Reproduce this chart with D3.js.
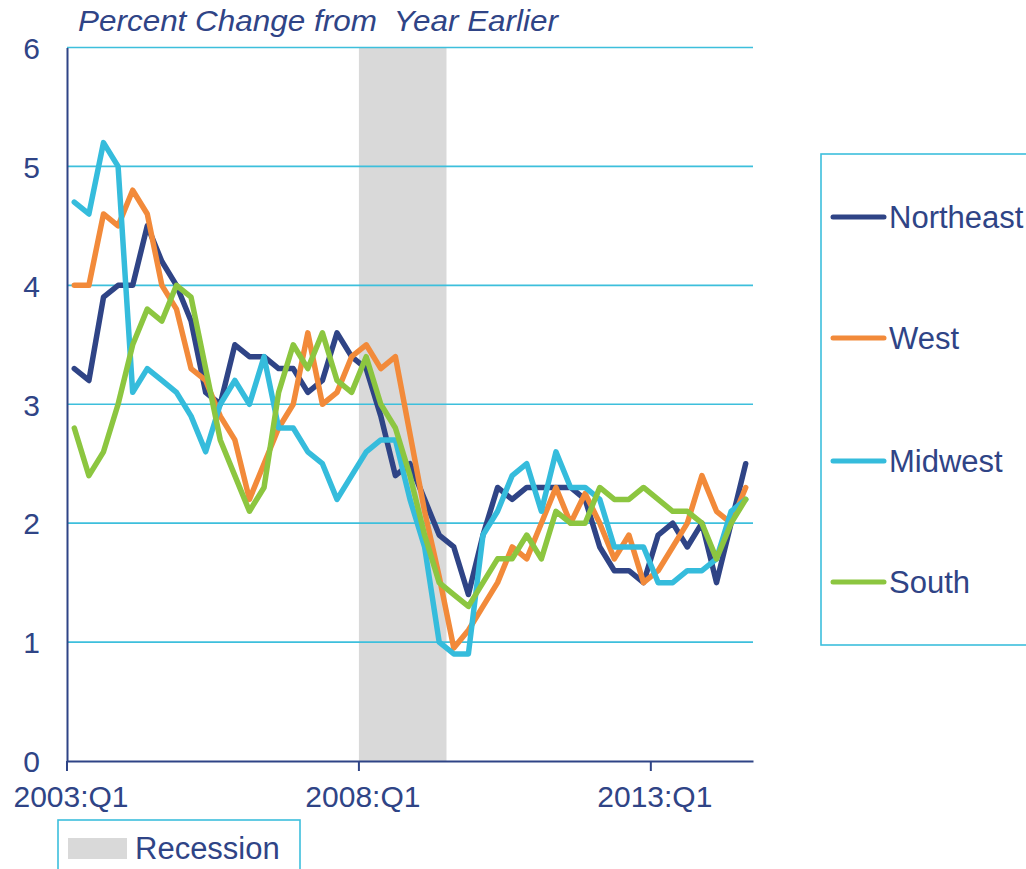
<!DOCTYPE html>
<html>
<head>
<meta charset="utf-8">
<script src="https://cdn.jsdelivr.net/npm/d3@7"></script>
<style>
  body { margin: 0; background: #fff; }
  svg { display: block; font-family: "Liberation Sans", Arial, sans-serif; }
</style>
</head>
<body>
<svg id="chart" width="1026" height="869"></svg>
<script>
// quarters 2003:Q1 .. 2014:Q3
var quarters = [];
for (var yr = 2003; yr <= 2014; yr++) {
	for (var q = 1; q <= 4; q++) {
		if (yr == 2014 && q > 3) break;
		quarters.push(yr + ":Q" + q);
	}
}
var tickLabels = ["2003:Q1", "2008:Q1", "2013:Q1"];
var yTicks = [0, 1, 2, 3, 4, 5, 6];
var recession = ["2008:Q1", "2009:Q2"];

var seriesNames = ["Northeast", "West", "Midwest", "South"];
var northeast = [3.3,3.2,3.9,4.0,4.0,4.5,4.2,4.0,3.7,3.1,3.0,3.5,3.4,3.4,3.3,3.3,3.1,3.2,3.6,3.4,3.3,2.9,2.4,2.5,2.2,1.9,1.8,1.4,1.9,2.3,2.2,2.3,2.3,2.3,2.3,2.2,1.8,1.6,1.6,1.5,1.9,2.0,1.8,2.0,1.5,2.0,2.5];
var west = [4.0,4.0,4.6,4.5,4.8,4.6,4.0,3.8,3.3,3.2,2.9,2.7,2.2,2.5,2.8,3.0,3.6,3.0,3.1,3.4,3.5,3.3,3.4,2.75,2.1,1.55,0.95,1.1,1.3,1.5,1.8,1.7,2.0,2.3,2.0,2.25,2.0,1.7,1.9,1.5,1.6,1.8,2.0,2.4,2.1,2.0,2.3];
var midwest = [4.7,4.6,5.2,5.0,3.1,3.3,3.2,3.1,2.9,2.6,3.0,3.2,3.0,3.4,2.8,2.8,2.6,2.5,2.2,2.4,2.6,2.7,2.7,2.2,1.8,1.0,0.9,0.9,1.9,2.1,2.4,2.5,2.1,2.6,2.3,2.3,2.2,1.8,1.8,1.8,1.5,1.5,1.6,1.6,1.7,2.1,2.2];
var south = [2.8,2.4,2.6,3.0,3.5,3.8,3.7,4.0,3.9,3.3,2.7,2.4,2.1,2.3,3.1,3.5,3.3,3.6,3.2,3.1,3.4,3.0,2.8,2.4,1.9,1.5,1.4,1.3,1.5,1.7,1.7,1.9,1.7,2.1,2.0,2.0,2.3,2.2,2.2,2.3,2.2,2.1,2.1,2.0,1.7,2.0,2.2];
var seriesColors = ["#2f4486", "#f28a3a", "#35bcdc", "#8cc640"];

var navy = "#2f4486", grid = "#3dbfdc", shade = "#d9d9d9";

var svg = d3.select("#chart");

var x = d3.scaleBand().domain(quarters).range([67, 753]);
var y = d3.scaleLinear().domain([0, 6]).range([761, 47.5]);

// recession shading
svg.append("rect")
	.attr("x", x(recession[0]))
	.attr("y", y(6))
	.attr("width", x(recession[1]) + x.bandwidth() - x(recession[0]))
	.attr("height", y(0) - y(6))
	.attr("fill", shade);

// gridlines
svg.append("g").selectAll("line")
	.data(yTicks.slice(1))
	.enter().append("line")
	.attr("x1", 67).attr("x2", 753)
	.attr("y1", function(d) { return y(d); })
	.attr("y2", function(d) { return y(d); })
	.attr("stroke", grid)
	.attr("stroke-width", 1.6);

// y axis
var yAxis = svg.append("g")
	.attr("transform", "translate(67,0)")
	.call(d3.axisLeft(y).tickValues(yTicks).tickSize(0).tickPadding(27).tickFormat(d3.format("d")));
yAxis.select(".domain").attr("stroke", navy).attr("stroke-width", 2);
yAxis.selectAll("text").attr("fill", navy).style("font-size", "30px").attr("dy", "0.36em");

// x axis
var xAxis = svg.append("g")
	.attr("transform", "translate(0," + y(0) + ")")
	.call(d3.axisBottom(x).tickValues(tickLabels).tickSize(10).tickSizeOuter(0).tickFormat(function(d) { return d; }));
xAxis.select(".domain").attr("stroke", navy).attr("stroke-width", 2);
xAxis.selectAll(".tick line").attr("stroke", navy).attr("stroke-width", 2)
	.attr("transform", "translate(" + (-x.bandwidth() / 2) + ",0)");
xAxis.selectAll(".tick text").attr("fill", navy).style("font-size", "30px")
	.attr("y", 25).attr("dy", "0.71em")
	.attr("transform", "translate(" + (-x.bandwidth() / 2 + 4) + ",0)");

// lines
var allSeries = [northeast, west, midwest, south];
var line = d3.line()
	.x(function(d, i) { return x(quarters[i]) + x.bandwidth() / 2; })
	.y(function(d) { return y(d); });

svg.append("g").selectAll("path")
	.data(allSeries)
	.enter().append("path")
	.attr("d", line)
	.attr("fill", "none")
	.attr("stroke", function(d, i) { return seriesColors[i]; })
	.attr("stroke-width", 5.5)
	.attr("stroke-linejoin", "round")
	.attr("stroke-linecap", "round");

// title
svg.append("text")
	.attr("x", 78).attr("y", 31)
	.attr("fill", navy)
	.style("font-size", "30px")
	.style("font-style", "italic")
	.attr("textLength", 480)
	.attr("lengthAdjust", "spacingAndGlyphs")
	.attr("xml:space", "preserve")
	.text("Percent Change from  Year Earlier");

// series legend
svg.append("rect")
	.attr("x", 821).attr("y", 154).attr("width", 260).attr("height", 491)
	.attr("fill", "none").attr("stroke", grid).attr("stroke-width", 1.6);

var legY = [217, 338, 461, 582];
var leg = svg.append("g").selectAll("g")
	.data(seriesNames)
	.enter().append("g")
	.attr("transform", function(d, i) { return "translate(0," + legY[i] + ")"; });
leg.append("line")
	.attr("x1", 833).attr("x2", 884)
	.attr("stroke", function(d, i) { return seriesColors[i]; })
	.attr("stroke-width", 5)
	.attr("stroke-linecap", "round");
leg.append("text")
	.attr("x", 889).attr("dy", "0.36em")
	.attr("fill", navy)
	.style("font-size", "31px")
	.text(function(d) { return d; });

// recession legend
svg.append("rect")
	.attr("x", 58).attr("y", 820).attr("width", 242).attr("height", 80)
	.attr("fill", "none").attr("stroke", grid).attr("stroke-width", 1.6);
svg.append("rect")
	.attr("x", 68).attr("y", 838).attr("width", 59).attr("height", 21)
	.attr("fill", shade);
svg.append("text")
	.attr("x", 135).attr("y", 848).attr("dy", "0.36em")
	.attr("fill", navy)
	.style("font-size", "31px")
	.text("Recession");
</script>
</body>
</html>
